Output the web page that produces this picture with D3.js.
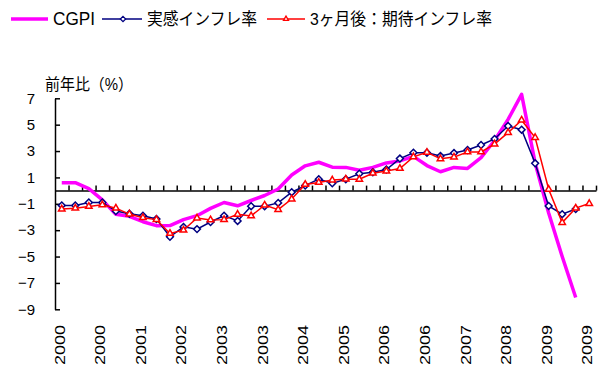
<!DOCTYPE html>
<html><head><meta charset="utf-8">
<script src="https://cdn.jsdelivr.net/npm/d3@7"></script>
<style>
body{margin:0;background:#fff;}
text{font-family:"Liberation Sans","Noto Sans CJK JP",sans-serif;fill:#000;}
</style></head>
<body><svg id="c" width="602" height="370"></svg>
<script>
const categories = ["2000Q1","2000Q2","2000Q3","2000Q4","2001Q1","2001Q2","2001Q3","2001Q4",
"2002Q1","2002Q2","2002Q3","2002Q4","2003Q1","2003Q2","2003Q3","2003Q4",
"2004Q1","2004Q2","2004Q3","2004Q4","2005Q1","2005Q2","2005Q3","2005Q4",
"2006Q1","2006Q2","2006Q3","2006Q4","2007Q1","2007Q2","2007Q3","2007Q4",
"2008Q1","2008Q2","2008Q3","2008Q4","2009Q1","2009Q2","2009Q3","2009Q4"];
const seriesNames = ["CGPI","実感インフレ率","3ヶ月後：期待インフレ率"];
const cgpi = [0.6,0.6,0.15,-0.7,-1.8,-1.95,-2.36,-2.66,-2.65,-2.2,-1.9,-1.35,-0.9,-1.15,-0.75,-0.37,
0.12,1.18,1.88,2.15,1.78,1.76,1.55,1.76,2.1,2.25,2.6,1.9,1.43,1.76,1.68,2.5,
3.8,5.4,7.3,2.1,-1.7,-5.0,-8.1,null];
const jikkan = [-1.12,-1.12,-0.9,-0.9,-1.55,-1.75,-1.9,-2.15,-3.5,-2.75,-2.92,-2.38,-1.9,-2.3,-1.18,-1.18,
-0.93,-0.12,0.38,0.87,0.55,0.87,1.28,1.4,1.6,2.43,2.87,2.87,2.62,2.85,3.08,3.46,
3.92,4.9,4.62,2.07,-1.16,-1.79,-1.4,null];
const kitai = [-1.4,-1.33,-1.2,-1.08,-1.33,-1.78,-2.05,-2.2,-3.25,-3.0,-2.08,-2.22,-2.2,-1.8,-1.92,-1.1,
-1.44,-0.64,0.47,0.62,0.8,0.87,0.86,1.32,1.48,1.68,2.56,2.9,2.41,2.54,2.93,2.93,
3.53,4.4,5.34,4.02,0.1,-2.42,-1.33,-0.98];
const yTicks = [-9,-7,-5,-3,-1,1,3,5,7];
const yTitle = "前年比（%）";

const svg = d3.select("#c");
const L = 55, R = 596, T = 98.3, B = 309.3;
const x = d3.scaleBand().domain(categories).range([L, R]).padding(0);
const xb = d3.scaleLinear().domain([0, categories.length]).range([L, R]);
const y = d3.scaleLinear().domain([-9, 7]).range([B, T]);
const cx = c => x(c) + x.bandwidth()/2;

// y axis
const ya = svg.append("g").attr("transform", `translate(${L},0)`)
  .call(d3.axisLeft(y).tickValues(yTicks).tickSize(-5).tickSizeOuter(0).tickPadding(20).tickFormat(d3.format("d")));
ya.select(".domain").attr("stroke", "#000").attr("stroke-width", 1.5);
ya.selectAll(".tick line").attr("stroke", "#000").attr("stroke-width", 1.5);
ya.selectAll(".tick text").attr("font-size", 15).attr("font-family", "Liberation Sans");

// x axis at zero
const xa = svg.append("g").attr("transform", `translate(0,${y(0)})`)
  .call(d3.axisTop(xb).tickValues(d3.range(1, categories.length + 1)).tickSize(5).tickSizeOuter(0).tickFormat(""));
xa.select(".domain").attr("stroke", "#000").attr("stroke-width", 1.5);
xa.selectAll(".tick line").attr("stroke", "#000").attr("stroke-width", 1.5);

// x labels
const xl = svg.append("g").attr("transform", "translate(0,325)")
  .call(d3.axisBottom(x).tickValues(categories.filter((d, i) => i % 3 === 0)).tickSize(0).tickFormat(d => d.slice(0, 4)));
xl.select(".domain").remove();
xl.selectAll(".tick text")
  .attr("transform", "rotate(-90)").attr("x", 0).attr("y", 3).attr("dy", null)
  .attr("text-anchor", "end").attr("font-size", 15).attr("font-family", "Liberation Sans")
  .attr("textLength", 40).attr("lengthAdjust", "spacingAndGlyphs");

// y title
svg.append("text").attr("x", 45).attr("y", 90).attr("font-size", 16)
  .attr("font-family", "Noto Sans CJK JP")
  .attr("textLength", 88).attr("lengthAdjust", "spacingAndGlyphs").text(yTitle);

const line = d3.line().defined(d => d.v !== null).x(d => cx(d.c)).y(d => y(d.v));
const mk = arr => categories.map((c, i) => ({c, v: arr[i]}));

// CGPI
svg.append("path").datum(mk(cgpi)).attr("d", line).attr("fill", "none")
  .attr("stroke", "#FF00FF").attr("stroke-width", 3.5).attr("stroke-linejoin", "round");

// 実感
const dBlue = mk(jikkan);
svg.append("path").datum(dBlue).attr("d", line).attr("fill", "none")
  .attr("stroke", "#000080").attr("stroke-width", 1.5);
const diamond = d3.symbol().type(d3.symbolDiamond2).size(30);
svg.append("g").selectAll("path").data(dBlue.filter(d => d.v !== null)).join("path")
  .attr("transform", d => `translate(${cx(d.c)},${y(d.v)})`).attr("d", diamond)
  .attr("fill", "#fff").attr("stroke", "#000080").attr("stroke-width", 1.5);

// 期待
const dRed = mk(kitai);
svg.append("path").datum(dRed).attr("d", line).attr("fill", "none")
  .attr("stroke", "#FF0000").attr("stroke-width", 1.5);
const tri = d3.symbol().type(d3.symbolTriangle2).size(30);
svg.append("g").selectAll("path").data(dRed).join("path")
  .attr("transform", d => `translate(${cx(d.c)},${y(d.v)})`).attr("d", tri)
  .attr("fill", "#fff").attr("stroke", "#FF0000").attr("stroke-width", 1.5);

// legend
const lg = svg.append("g");
lg.append("line").attr("x1", 11).attr("x2", 48).attr("y1", 19).attr("y2", 19).attr("stroke", "#FF00FF").attr("stroke-width", 3.5);
lg.append("text").attr("x", 53).attr("y", 25).attr("font-size", 18).attr("textLength", 42).attr("lengthAdjust", "spacingAndGlyphs").text(seriesNames[0]);
lg.append("line").attr("x1", 102).attr("x2", 142).attr("y1", 19).attr("y2", 19).attr("stroke", "#000080").attr("stroke-width", 1.5);
lg.append("path").attr("transform", "translate(123,19)").attr("d", d3.symbol().type(d3.symbolDiamond2).size(18)).attr("fill", "#fff").attr("stroke", "#000080").attr("stroke-width", 1.3);
lg.append("text").attr("x", 147).attr("y", 25).attr("font-size", 17).attr("textLength", 110).attr("lengthAdjust", "spacingAndGlyphs").text(seriesNames[1]);
lg.append("line").attr("x1", 267).attr("x2", 305).attr("y1", 19).attr("y2", 19).attr("stroke", "#FF0000").attr("stroke-width", 1.5);
lg.append("path").attr("transform", "translate(286,19)").attr("d", d3.symbol().type(d3.symbolTriangle2).size(18)).attr("fill", "#fff").attr("stroke", "#FF0000").attr("stroke-width", 1.3);
lg.append("text").attr("x", 310).attr("y", 25).attr("font-size", 17).attr("textLength", 182).attr("lengthAdjust", "spacingAndGlyphs").text(seriesNames[2]);
</script></body></html>
